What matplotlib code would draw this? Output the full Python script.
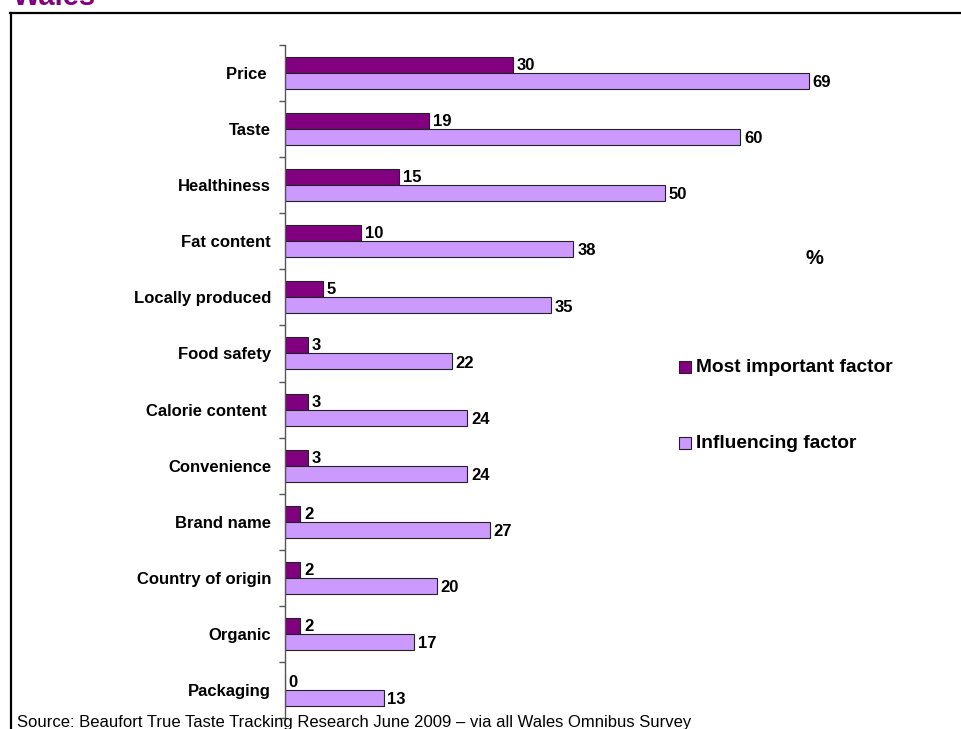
import matplotlib
matplotlib.use("Agg")
import matplotlib.pyplot as plt
from matplotlib.lines import Line2D
from matplotlib.patches import Rectangle
import numpy as np

plt.rcParams['font.family'] = ['Liberation Sans', 'DejaVu Sans']

categories = ["Price ", "Taste", "Healthiness", "Fat content", "Locally produced",
              "Food safety", "Calorie content ", "Convenience", "Brand name",
              "Country of origin", "Organic", "Packaging"]
most_important = [30, 19, 15, 10, 5, 3, 3, 3, 2, 2, 2, 0]
influencing = [69, 60, 50, 38, 35, 22, 24, 24, 27, 20, 17, 13]
series_names = ["Most important factor", "Influencing factor"]

dark = "#800080"
light = "#CC99FF"

W, H = 962, 729
fig = plt.figure(figsize=(W / 100, H / 100), dpi=100)


def fig_xy(px, py):
    return px / W, 1 - py / H


# plot area: zero line at x=285px, 7.59 px per percentage point
left_px, top_px, bottom_px = 285, 45, 718
ax = fig.add_axes([left_px / W, (H - bottom_px) / H, (W - left_px) / W, (bottom_px - top_px) / H])
ax.set_xlim(0, (W - left_px) / 7.59)
ax.set_ylim(len(categories) - 0.5, -0.5)

y = np.arange(len(categories))
off = 0.143
bh = 0.285
ax.barh(y - off, most_important, height=bh, color=dark, edgecolor="#222222", linewidth=0.8)
ax.barh(y + off, influencing, height=bh, color=light, edgecolor="#222222", linewidth=0.8)

for yi, v in zip(y, most_important):
    ax.text(v + 0.5, yi - off + 0.01, str(v), va="center", ha="left",
            fontsize=12, fontweight="bold")
for yi, v in zip(y, influencing):
    ax.text(v + 0.5, yi + off + 0.03, str(v), va="center", ha="left",
            fontsize=12, fontweight="bold")

for s in ["top", "right", "bottom"]:
    ax.spines[s].set_visible(False)
ax.spines["left"].set_color("#555555")
ax.spines["left"].set_linewidth(1.0)
ax.set_xticks([])
ax.set_yticks(y)
ax.set_yticklabels(categories, fontsize=12, fontweight="bold")
ax.set_yticks(np.arange(len(categories) + 1) - 0.5, minor=True)
ax.tick_params(axis="y", which="major", length=0, pad=10)
ax.tick_params(axis="y", which="minor", length=4, width=1, color="#555555")

# unit label
px, py = fig_xy(814, 259)
fig.text(px, py, "%", fontsize=14.5, fontweight="bold", ha="center", va="center")

# legend
for name, col, ly in [(series_names[0], dark, 367), (series_names[1], light, 443)]:
    fx, fy = fig_xy(679, ly + 6)
    fig.patches.append(Rectangle((fx, fy), 12 / W, 12 / H, transform=fig.transFigure,
                                 facecolor=col, edgecolor="#222222", linewidth=0.8))
    tx, ty = fig_xy(696, ly)
    fig.text(tx, ty, name, fontsize=13.8, fontweight="bold", va="center", ha="left")

# frame lines
fig.add_artist(Line2D([10 / W, 1.0], [1 - 13 / H, 1 - 13 / H], transform=fig.transFigure,
                      color="black", linewidth=1.6))
fig.add_artist(Line2D([11 / W, 11 / W], [1 - 13 / H, 0], transform=fig.transFigure,
                      color="black", linewidth=1.6))

# title (partly above the top edge)
tx, ty = fig_xy(13, 5)
fig.text(tx, ty, "Wales", fontsize=21, fontweight="bold", color=dark,
         va="baseline", ha="left")

# source note
sx, sy = fig_xy(17, 722)
fig.text(sx, sy, "Source: Beaufort True Taste Tracking Research June 2009 \u2013 via all Wales Omnibus Survey",
         fontsize=12, va="center", ha="left")

fig.savefig("out.png", dpi=100)
